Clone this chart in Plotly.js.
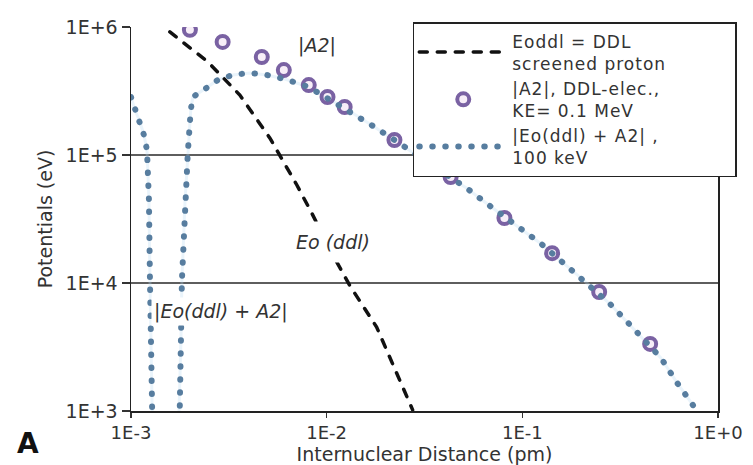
<!DOCTYPE html>
<html>
<head>
<meta charset="utf-8">
<script src="https://cdn.plot.ly/plotly-3.0.1.min.js"></script>
<style>
  html, body { margin: 0; padding: 0; background: #fff; }
  #chart { width: 753px; height: 465px; }
  path.js-line { stroke-linecap: round; }
  .legendtext { letter-spacing: 1px; }
</style>
</head>
<body>
<div id="chart"></div>
<script>
// ---- data ----
const eoX = [0.00158, 0.00247, 0.0036, 0.00512, 0.00704, 0.00839, 0.01074, 0.0131, 0.018, 0.0275];
const eoY = [9.15e5, 5.34e5, 2.94e5, 1.36e5, 5.83e4, 3.52e4, 1.66e4, 9.6e3, 4.53e3, 1.02e3];

const a2X = [0.002, 0.00294, 0.00466, 0.00604, 0.0081, 0.0101, 0.01236, 0.0222, 0.043, 0.081, 0.142, 0.247, 0.45];
const a2Y = [9.5e5, 7.64e5, 5.83e5, 4.61e5, 3.52e5, 2.84e5, 2.37e5, 1.31e5, 6.73e4, 3.22e4, 1.71e4, 8.5e3, 3.34e3];

const sumX = [0.001, 0.001048, 0.001111, 0.001165, 0.001207, 0.001235, 0.00125, 0.00128, 0.0013,
              0.00175, 0.00176, 0.0018, 0.00182, 0.00189, 0.00195, 0.00202, 0.00207, 0.00239, 0.00278,
              0.00331, 0.00404, 0.00494, 0.00611, 0.00809, 0.0101, 0.01236, 0.01718, 0.0222, 0.0298,
              0.043, 0.0518, 0.0695, 0.0942, 0.125, 0.164, 0.217, 0.281, 0.364, 0.512, 0.618, 0.745];
const sumY = [2.84e5, 2.25e5, 1.81e5, 1.43e5, 1.09e5, 4.45e4, 1.05e4, 1000, 300,
              300, 1000, 3.59e3, 1.04e4, 4.45e4, 1.02e5, 2.25e5, 2.84e5, 3.28e5, 3.86e5,
              4.22e5, 4.38e5, 4.22e5, 3.92e5, 3.4e5, 2.79e5, 2.33e5, 1.69e5, 1.31e5, 9.65e4,
              6.6e4, 5.52e4, 3.92e4, 2.79e4, 2.02e4, 1.41e4, 9.81e3, 6.85e3, 4.53e3, 2.59e3, 1.66e3, 1.11e3];

const seriesNames = [
  'Eoddl = DDL<br>screened proton',
  '|A2|, DDL-elec.,<br>KE= 0.1 MeV',
  '|Eo(ddl) + A2| ,<br>100 keV'
];
const xTickVals = [0.001, 0.01, 0.1, 1];
const xTickText = ['1E-3', '1E-2', '1E-1', '1E+0'];
const yTickVals = [1e3, 1e4, 1e5, 1e6];
const yTickText = ['1E+3', '1E+4', '1E+5', '1E+6'];
const xTitle = 'Internuclear Distance (pm)';
const yTitle = 'Potentials (eV)';
const curveLabels = ['|A2|', 'Eo (ddl)', '|Eo(ddl) + A2|'];
const panelLabel = 'A';

// ---- chart ----
const FONT = 'DejaVu Sans, Verdana, Arial, sans-serif';
const NB = '\u00a0';
// widen the legend box (reference legend reaches the right edge of the figure)
const legendNames = seriesNames.map((s, i) => i === 0 ? s + NB.repeat(10) : s);
const traces = [
  { x: sumX, y: sumY, type: 'scatter', mode: 'lines', showlegend: false, hoverinfo: 'skip',
    line: { color: 'rgba(185,218,242,0.3)', width: 3 } },
  { x: eoX, y: eoY, type: 'scatter', mode: 'lines', name: legendNames[0],
    line: { color: '#111', width: 3.5, dash: '8px,10px' } },
  { x: a2X, y: a2Y, type: 'scatter', mode: 'markers', name: legendNames[1],
    marker: { symbol: 'circle', size: 12, color: '#f7eef8', line: { color: '#7a62a3', width: 4 } } },
  { x: sumX, y: sumY, type: 'scatter', mode: 'lines', name: legendNames[2],
    line: { color: '#577d9f', width: 6, dash: '0.5px,12.5px' } }
];

const italic = { family: FONT, size: 19, color: '#333', style: 'italic' };
const layout = {
  width: 753, height: 465,
  margin: { l: 131, r: 35, t: 27, b: 54 },
  paper_bgcolor: '#fff', plot_bgcolor: '#fff',
  font: { family: FONT, color: '#333', size: 18 },
  showlegend: true,
  legend: {
    x: 0.48, y: 1.013, xanchor: 'left', yanchor: 'top',
    bgcolor: '#fff', bordercolor: '#222', borderwidth: 1.5,
    font: { family: FONT, size: 17, color: '#333' },
    itemwidth: 88, tracegroupgap: 0
  },
  xaxis: {
    type: 'log', range: [-3, 0],
    tickvals: xTickVals, ticktext: xTickText,
    ticks: 'outside', ticklen: 5, tickcolor: '#333', tickwidth: 1.5,
    showline: true, linecolor: '#222', linewidth: 1.5,
    showgrid: false, zeroline: false,
    tickfont: { family: FONT, size: 18, color: '#333' },
    title: { text: NB.repeat(8) + xTitle, font: { family: FONT, size: 19, color: '#333' }, standoff: 3 }
  },
  yaxis: {
    type: 'log', range: [3, 6],
    tickvals: yTickVals, ticktext: yTickText,
    ticks: 'outside', ticklen: 8, tickcolor: '#333', tickwidth: 1.5,
    showline: true, linecolor: '#222', linewidth: 1.5, mirror: true,
    showgrid: true, gridcolor: '#5e5e5e', gridwidth: 1.5, zeroline: false,
    tickfont: { family: FONT, size: 19, color: '#333' },
    title: { text: yTitle, font: { family: FONT, size: 19, color: '#333' }, standoff: 8 }
  },
  annotations: [
    { text: curveLabels[0], xref: 'paper', yref: 'paper', x: 0.317, y: 0.953, showarrow: false,
      xanchor: 'center', yanchor: 'middle', font: italic },
    { text: curveLabels[1], xref: 'paper', yref: 'paper', x: 0.344, y: 0.44, showarrow: false,
      xanchor: 'center', yanchor: 'middle', bgcolor: '#fff', borderpad: 9, font: italic },
    { text: curveLabels[2], xref: 'paper', yref: 'paper', x: 0.153, y: 0.258, showarrow: false,
      xanchor: 'center', yanchor: 'middle', bgcolor: '#fff', borderpad: 2, font: italic },
    { text: '<b>' + panelLabel + '</b>', xref: 'paper', yref: 'paper', x: -0.176, y: -0.085, showarrow: false,
      xanchor: 'center', yanchor: 'middle',
      font: { family: FONT, size: 28, color: '#111' } }
  ]
};

Plotly.newPlot('chart', traces, layout, { displayModeBar: false, staticPlot: true });
</script>
</body>
</html>
